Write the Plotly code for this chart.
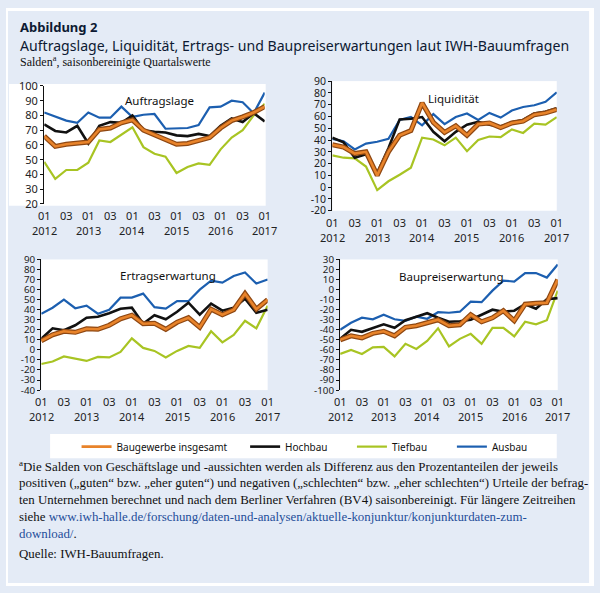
import plotly.graph_objects as go

# ---------------- data ----------------
quarters = ["2012Q1","2012Q2","2012Q3","2012Q4","2013Q1","2013Q2","2013Q3","2013Q4",
            "2014Q1","2014Q2","2014Q3","2014Q4","2015Q1","2015Q2","2015Q3","2015Q4",
            "2016Q1","2016Q2","2016Q3","2016Q4","2017Q1"]
quarter_labels = ["01","","03","","01","","03","","01","","03","",
                  "01","","03","","01","","03","","01"]
year_labels = ["2012","","","","2013","","","","2014","","","",
               "2015","","","","2016","","","","2017"]

series_names = ["Baugewerbe insgesamt", "Hochbau", "Tiefbau", "Ausbau"]

# Auftragslage
auf_bau  = [66, 59, 60.5, 61.5, 62, 70.5, 71.5, 75, 77, 70, 67, 64, 60.5, 61, 63, 65, 71.5, 76.5, 79, 82, 86]
auf_hoch = [74, 69.5, 68.5, 73, 61, 73, 75.5, 75, 80, 70, 69, 68.5, 66.5, 66, 67.5, 66, 73, 78, 75.5, 81.5, 76]
auf_tief = [48.5, 37, 43, 43, 48, 63, 62, 67, 72, 58.5, 54, 52, 41, 45, 47.5, 46.5, 57, 65, 70, 80, 88]
auf_aus  = [82, 79, 76.5, 75, 82, 78.5, 78.5, 86, 79, 80.5, 81, 71, 71, 71.5, 73.5, 85.5, 86, 90, 89, 81.5, 95.5]

# Liquiditaet
liq_bau  = [36, 34, 28.5, 30, 10, 30, 44, 48, 71.5, 55, 46.5, 52, 44, 53.5, 54.5, 50.5, 54.5, 56, 61.5, 63, 66]
liq_hoch = [42, 38, 25, 28, 12, 33, 57.5, 58, 59.5, 47, 39, 47, 53, 55.5, 53, 51.5, 55, 57, 62.5, 64, 67]
liq_tief = [27, 25, 24.5, 17.5, -2.5, 5, 10.5, 16.5, 42, 40.5, 35.5, 42, 30.5, 40, 43, 42.5, 49, 46, 54, 53, 59.5]
liq_aus  = [41, 39, 32, 37, 38.5, 41, 57, 59.5, 52.5, 62, 53.5, 59.5, 62.5, 57, 63, 59, 65, 68, 69.5, 72.5, 80.5]

# Ertragserwartung
ert_bau  = [9, 15, 18.5, 17.5, 21, 20.5, 24.5, 31, 34.5, 26, 26.5, 20.5, 27.5, 32, 22.5, 40.5, 35, 40, 56, 40.5, 50]
ert_hoch = [11, 21.5, 19.5, 24.5, 32, 33, 36.5, 41, 42, 26, 34.5, 30.5, 38, 47, 35, 46, 39, 42, 51, 37, 40]
ert_tief = [-14, -11.5, -6.5, -9, -11, -7, -7.5, -2, 11.5, 2, -1, -7.5, -1, 4, 2, 18.5, 7.5, 15, 29, 21.5, 44]
ert_aus  = [36, 42, 50, 41.5, 44, 36, 40, 52, 52, 56, 42.5, 41, 48.5, 48.5, 60, 69, 67, 73.5, 77, 66, 70]

# Baupreiserwartung
bpr_bau  = [-50, -46, -48, -43.5, -41.5, -46, -37.5, -36, -33, -30, -36, -35, -25, -32, -28, -21, -31, -14.5, -13.5, -13, 10]
bpr_hoch = [-49, -40, -42, -38, -34.5, -38, -30.5, -27, -23.5, -28, -32, -31.5, -30, -25, -20, -22, -21, -14.5, -19, -9.5, -8.5]
bpr_tief = [-64, -60, -64, -57.5, -57, -66.5, -54, -59, -51, -38.5, -56.5, -49, -44, -54, -38, -38, -46.5, -32, -34.5, -30.5, -1]
bpr_aus  = [-40, -33, -28, -29.5, -25, -29.5, -31, -27, -29, -22.5, -23, -22, -12, -12.5, -1, 9, 8, 16.5, 16.5, 12, 25]

panel_titles = ["Auftragslage", "Liquidität", "Ertragserwartung", "Baupreiserwartung"]

# ---------------- styling ----------------
W, H = 600, 593
def px(x): return x / W
def py(y): return 1 - y / H

BG = "#e4ebf6"
C_BAU, C_BAU_EDGE = "#e8832a", "#8e4712"
C_HOCH, C_TIEF, C_AUS = "#111111", "#a8c423", "#1c5fb0"

x_idx = list(range(len(quarters)))
q_idx = [k for k in x_idx if quarter_labels[k]]
q_txt = [quarter_labels[k] for k in q_idx]
y_idx = [k for k in x_idx if year_labels[k]]
y_txt = [year_labels[k] for k in y_idx]

panels = [
    dict(data=(auf_bau, auf_hoch, auf_tief, auf_aus), yr=(20, 100), xd=(39, 264), yd=(80, 201),
         title_pos=(10.5, 90), yfs=11),
    dict(data=(liq_bau, liq_hoch, liq_tief, liq_aus), yr=(-20, 90), xd=(333, 562), yd=(75, 208),
         title_pos=(10.8, 75), yfs=10.5),
    dict(data=(ert_bau, ert_hoch, ert_tief, ert_aus), yr=(-40, 90), xd=(36, 267), yd=(258, 392),
         title_pos=(11.2, 74), yfs=9.8),
    dict(data=(bpr_bau, bpr_hoch, bpr_tief, bpr_aus), yr=(-100, 30), xd=(341, 563), yd=(258, 392),
         title_pos=(10.2, 12.6), yfs=9.8),
]

fig = go.Figure()
layout = {}
annotations = []
next_axis = 5
XFONT = dict(family="Noto Sans", size=11, color="#222222")

for i, p in enumerate(panels):
    n = i + 1
    xa, ya = f"x{n}", f"y{n}"
    bau, hoch, tief, aus = p["data"]
    first = (i == 0)
    fig.add_trace(go.Scatter(x=x_idx, y=tief, mode="lines", line=dict(color=C_TIEF, width=2.2),
                             name=series_names[2], xaxis=xa, yaxis=ya, showlegend=first,
                             legend="legend3", hoverinfo="skip"))
    fig.add_trace(go.Scatter(x=x_idx, y=aus, mode="lines", line=dict(color=C_AUS, width=2.2),
                             name=series_names[3], xaxis=xa, yaxis=ya, showlegend=first,
                             legend="legend4", hoverinfo="skip"))
    fig.add_trace(go.Scatter(x=x_idx, y=hoch, mode="lines", line=dict(color=C_HOCH, width=2.6),
                             name=series_names[1], xaxis=xa, yaxis=ya, showlegend=first,
                             legend="legend2", hoverinfo="skip"))
    fig.add_trace(go.Scatter(x=x_idx, y=bau, mode="lines", line=dict(color=C_BAU_EDGE, width=5),
                             name=series_names[0], xaxis=xa, yaxis=ya, showlegend=False,
                             hoverinfo="skip"))
    fig.add_trace(go.Scatter(x=x_idx, y=bau, mode="lines", line=dict(color=C_BAU, width=2.6),
                             name=series_names[0], xaxis=xa, yaxis=ya, showlegend=first,
                             legend="legend", hoverinfo="skip"))

    y0, y1 = p["yr"]
    yvals = list(range(y0, y1 + 1, 10))
    xdom = [px(p["xd"][0]), px(p["xd"][1])]
    ydom = [py(p["yd"][1]), py(p["yd"][0])]
    bottom_line = (y0 == 20)
    yfont = dict(family="Noto Sans", size=p["yfs"], color="#222222")
    # quarter labels (01 / 03)
    layout[f"xaxis{n}"] = dict(domain=xdom, range=[0, 20], anchor=ya, tickvals=q_idx,
                               ticktext=q_txt, showgrid=False, zeroline=False,
                               showline=False, ticks="", ticklabelstandoff=4,
                               tickfont=XFONT, tickangle=0, fixedrange=True)
    layout[f"yaxis{n}"] = dict(domain=ydom, range=[y0, y1], anchor=xa, tickvals=yvals,
                               ticktext=[str(v) for v in yvals], showgrid=False, zeroline=False,
                               showline=True, linecolor="#111", linewidth=1.3, ticks="outside",
                               ticklen=3, tickcolor="#111", tickwidth=1.2, tickfont=yfont,
                               fixedrange=True)
    # year labels below the quarter labels (placed on the panel's x scale)
    for k, t in zip(y_idx, y_txt):
        annotations.append(dict(x=k, y=py(p["yd"][1] + 27), xref=xa, yref="paper", text=t,
                                showarrow=False, xanchor="center", yanchor="middle",
                                font=XFONT))
    # inside half of crossing y ticks
    ay = next_axis; next_axis += 1
    layout[f"yaxis{ay}"] = dict(overlaying=ya, anchor=xa, side="left", range=[y0, y1],
                                tickvals=yvals, showticklabels=False, ticks="inside", ticklen=3,
                                tickcolor="#111", tickwidth=1.2, showgrid=False,
                                zeroline=False, showline=False, fixedrange=True)
    # x axis line (at bottom or at zero) with crossing ticks
    if bottom_line:
        pos = ydom[0]
    else:
        pos = ydom[0] + (0 - y0) / (y1 - y0) * (ydom[1] - ydom[0])
    for side_ticks, showln in (("outside", True), ("inside", False)):
        ax = next_axis; next_axis += 1
        layout[f"xaxis{ax}"] = dict(overlaying=xa, range=[0, 20], tickvals=x_idx,
                                    showticklabels=False, ticks=side_ticks, ticklen=3,
                                    tickcolor="#111", tickwidth=1.2, showgrid=False,
                                    zeroline=False, showline=showln, linecolor="#111",
                                    linewidth=1.3, fixedrange=True, anchor="free",
                                    position=pos)

    tx, ty = p["title_pos"]
    annotations.append(dict(x=tx, y=ty, xref=xa, yref=ya, text=panel_titles[i], showarrow=False,
                            font=dict(family="Noto Sans", size=11.5, color="#111"),
                            xanchor="center", yanchor="middle"))

# header texts
annotations += [
    dict(x=px(12), y=py(19), xref="paper", yref="paper", text="<b>Abbildung 2</b>",
         showarrow=False, xanchor="left", yanchor="middle",
         font=dict(family="Noto Sans", size=13, color="#0d1a33")),
    dict(x=px(12), y=py(38), xref="paper", yref="paper",
         text="Auftragslage, Liquidität, Ertrags- und Baupreiserwartungen laut IWH-Bauumfragen",
         showarrow=False, xanchor="left", yanchor="middle",
         font=dict(family="Noto Sans", size=14.1, color="#0d1a33")),
    dict(x=px(12), y=py(55), xref="paper", yref="paper",
         text="Salden<sup>a</sup>, saisonbereinigte Quartalswerte",
         showarrow=False, xanchor="left", yanchor="middle",
         font=dict(family="Liberation Serif", size=12, color="#111")),
]

LINK = "#1f4e9a"
foot_lines = [
    "<sup>a</sup>Die Salden von Geschäftslage und -aussichten werden als Differenz aus den Prozentanteilen der jeweils",
    "positiven („guten“ bzw. „eher guten“) und negativen („schlechten“ bzw. „eher schlechten“) Urteile der befrag-",
    "ten Unternehmen berechnet und nach dem Berliner Verfahren (BV4) saisonbereinigt. Für längere Zeitreihen",
    f"siehe <span style='color:{LINK}'>www.iwh-halle.de/forschung/daten-und-analysen/aktuelle-konjunktur/konjunkturdaten-zum-</span>",
    f"<span style='color:{LINK}'>download/</span>.",
]
foot_y = [470, 487.5, 505, 522, 539.5]
FOOT_FONT = dict(family="Liberation Serif", size=12.9, color="#111")
for t, yy in zip(foot_lines, foot_y):
    annotations.append(dict(x=px(11), y=py(yy), xref="paper", yref="paper", text=t,
                            showarrow=False, xanchor="left", yanchor="middle", font=FOOT_FONT))
annotations.append(dict(x=px(11), y=py(560), xref="paper", yref="paper",
                        text="Quelle: IWH-Bauumfragen.", showarrow=False, xanchor="left",
                        yanchor="middle", font=FOOT_FONT))

shapes = [
    # white area behind panel 1 (includes tick labels)
    dict(type="rect", xref="paper", yref="paper", x0=px(3), x1=px(265), y0=py(203), y1=py(78),
         fillcolor="white", line=dict(width=0), layer="below"),
    # legend box
    dict(type="rect", xref="paper", yref="paper", x0=px(45), x1=px(562), y0=py(462), y1=py(437),
         fillcolor="white", line=dict(width=0), layer="below"),
    # white outer border
    dict(type="rect", xref="paper", yref="paper", x0=0, x1=px(2), y0=0, y1=1,
         fillcolor="white", line=dict(width=0), layer="above"),
    dict(type="rect", xref="paper", yref="paper", x0=px(595), x1=1, y0=0, y1=1,
         fillcolor="white", line=dict(width=0), layer="above"),
    dict(type="rect", xref="paper", yref="paper", x0=0, x1=1, y0=py(3), y1=1,
         fillcolor="white", line=dict(width=0), layer="above"),
    dict(type="rect", xref="paper", yref="paper", x0=0, x1=1, y0=0, y1=py(590),
         fillcolor="white", line=dict(width=0), layer="above"),
]

LEG_FONT = dict(family="Noto Sans", size=10, color="#111")
def leg(xpix):
    return dict(x=px(xpix), y=py(450), xanchor="left", yanchor="middle", orientation="h",
                bgcolor="rgba(0,0,0,0)", font=LEG_FONT, borderwidth=0, itemwidth=30,
                tracegroupgap=0)

fig.update_layout(
    width=W, height=H, margin=dict(l=0, r=0, t=0, b=0),
    paper_bgcolor=BG, plot_bgcolor="white",
    annotations=annotations, shapes=shapes,
    legend=leg(72), legend2=leg(244), legend3=leg(353), legend4=leg(455),
    **layout,
)
fig.write_html("out.html", config={"displayModeBar": False},
               post_script="document.body.style.margin='0';document.body.style.overflow='hidden';")
